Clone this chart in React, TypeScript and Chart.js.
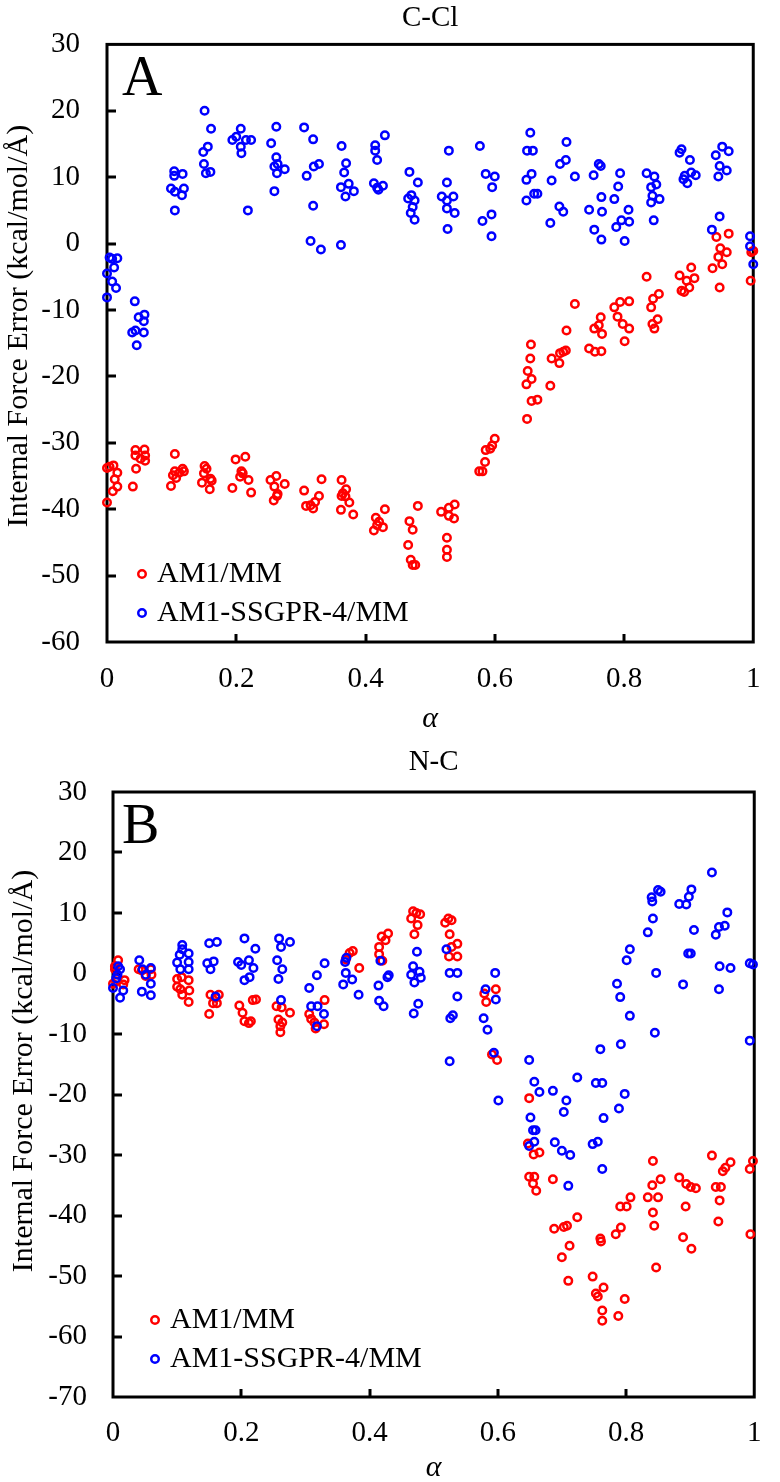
import React, { useEffect, useRef } from "react";
import { Chart, registerables } from "chart.js";

Chart.register(...registerables);

const FONT = "'Liberation Serif', 'Times New Roman', Times, serif";

// ---------- DATA (alpha, internal force error) ----------
const seriesLabels = ["AM1/MM", "AM1-SSGPR-4/MM"];
const xTickValues = [0, 0.2, 0.4, 0.6, 0.8, 1];

// Panel A: C-Cl
const cclAm1: number[][] = [
  [0.0, -39.0], [0.0, -33.8], [0.01, -33.4], [0.009, -37.3], [0.012, -35.5], [0.016, -34.5], [0.016, -36.6], [0.004, -33.6],
  [0.044, -31.1], [0.044, -31.9], [0.045, -33.9], [0.04, -36.6], [0.058, -31.0], [0.059, -31.9], [0.052, -32.4], [0.059, -32.7],
  [0.105, -31.7], [0.099, -36.5], [0.105, -34.3], [0.102, -34.9], [0.107, -35.3], [0.117, -33.9], [0.119, -34.3], [0.112, -34.5],
  [0.151, -33.5], [0.154, -33.9], [0.15, -34.6], [0.147, -36.0], [0.16, -35.4], [0.162, -35.7], [0.159, -37.0],
  [0.199, -32.5], [0.214, -32.1], [0.194, -36.8], [0.208, -34.3], [0.21, -34.6], [0.206, -35.1], [0.219, -35.6], [0.223, -37.5],
  [0.253, -35.6], [0.262, -35.0], [0.259, -36.6], [0.263, -38.0], [0.258, -38.7], [0.264, -37.7], [0.275, -36.2],
  [0.305, -37.2], [0.308, -39.5], [0.315, -39.4], [0.319, -39.9], [0.322, -38.9], [0.328, -38.0], [0.332, -35.5],
  [0.363, -35.6], [0.37, -37.0], [0.365, -37.6], [0.363, -38.0], [0.369, -38.1], [0.375, -39.0], [0.362, -40.1], [0.381, -40.8],
  [0.413, -43.2], [0.416, -41.3], [0.421, -41.9], [0.427, -42.7], [0.43, -40.0], [0.418, -42.4],
  [0.468, -41.8], [0.481, -39.5], [0.473, -43.1], [0.466, -45.4], [0.47, -47.6], [0.473, -48.4], [0.477, -48.4],
  [0.517, -40.4], [0.529, -39.8], [0.538, -39.3], [0.529, -41.0], [0.537, -41.4], [0.526, -44.3], [0.526, -46.1], [0.526, -47.2],
  [0.576, -34.3], [0.581, -34.3], [0.585, -32.9], [0.586, -31.1], [0.593, -30.9], [0.596, -30.4], [0.6, -29.4],
  [0.65, -26.4], [0.657, -23.7], [0.666, -23.5], [0.649, -21.2], [0.657, -20.4], [0.651, -19.2], [0.655, -17.3], [0.656, -15.2],
  [0.686, -21.4], [0.688, -17.3], [0.7, -18.0], [0.701, -16.5], [0.706, -16.3], [0.71, -16.1], [0.711, -13.1], [0.724, -9.1],
  [0.746, -15.8], [0.755, -16.3], [0.765, -16.2], [0.754, -12.8], [0.764, -11.1], [0.766, -13.6], [0.761, -12.3],
  [0.785, -9.6], [0.794, -8.8], [0.808, -8.7], [0.79, -11.0], [0.798, -12.1], [0.808, -12.8], [0.801, -14.7],
  [0.835, -5.0], [0.854, -7.6], [0.845, -8.3], [0.842, -9.6], [0.852, -11.4], [0.844, -12.1], [0.847, -12.8],
  [0.886, -4.8], [0.904, -3.6], [0.897, -5.6], [0.909, -5.2], [0.889, -7.1], [0.893, -7.3], [0.901, -6.6],
  [0.962, 1.5], [0.943, 1.0], [0.949, -0.7], [0.959, -1.3], [0.946, -2.0], [0.952, -3.1], [0.937, -3.7], [0.948, -6.6],
  [0.997, -1.3], [1.0, -1.1], [0.996, -5.6],
];

const cclSsgpr: number[][] = [
  [0.0, -8.1], [0.0, -4.5], [0.004, -2.1], [0.008, -2.3], [0.016, -2.2], [0.011, -3.6], [0.008, -5.7], [0.014, -6.7],
  [0.043, -8.7], [0.039, -13.4], [0.044, -13.1], [0.049, -11.1], [0.058, -10.7], [0.057, -11.7], [0.057, -13.4], [0.046, -15.3],
  [0.104, 10.9], [0.104, 10.2], [0.117, 10.5], [0.099, 8.3], [0.105, 7.8], [0.119, 8.3], [0.116, 7.3], [0.105, 5.0],
  [0.151, 20.0], [0.161, 17.3], [0.149, 13.8], [0.156, 14.6], [0.15, 12.0], [0.153, 10.6], [0.16, 10.8],
  [0.194, 15.6], [0.2, 16.1], [0.207, 17.3], [0.207, 14.6], [0.208, 13.6], [0.215, 15.6], [0.223, 15.6], [0.218, 5.0],
  [0.254, 15.1], [0.262, 17.6], [0.262, 13.0], [0.259, 11.6], [0.264, 12.0], [0.263, 10.6], [0.275, 11.2], [0.259, 7.9],
  [0.305, 17.5], [0.319, 15.7], [0.309, 10.2], [0.32, 11.6], [0.328, 12.0], [0.319, 5.7], [0.315, 0.4], [0.331, -0.9],
  [0.363, 14.7], [0.37, 12.1], [0.367, 10.7], [0.362, 8.5], [0.374, 9.0], [0.369, 7.1], [0.382, 7.9], [0.362, -0.2],
  [0.415, 14.8], [0.415, 14.0], [0.418, 12.6], [0.43, 16.3], [0.413, 9.1], [0.42, 8.1], [0.427, 8.7], [0.418, 8.4],
  [0.468, 10.8], [0.481, 9.2], [0.466, 6.8], [0.471, 7.3], [0.476, 6.5], [0.473, 5.5], [0.47, 4.6], [0.476, 3.6],
  [0.529, 14.0], [0.526, 9.2], [0.518, 7.1], [0.536, 7.1], [0.526, 6.5], [0.538, 4.6], [0.526, 5.3], [0.527, 2.2],
  [0.577, 14.7], [0.586, 10.5], [0.6, 10.1], [0.596, 8.5], [0.581, 3.4], [0.595, 4.4], [0.595, 1.1],
  [0.655, 16.7], [0.65, 14.0], [0.659, 14.0], [0.657, 10.5], [0.649, 9.6], [0.661, 7.5], [0.666, 7.5], [0.649, 6.5],
  [0.711, 15.3], [0.71, 12.6], [0.701, 12.0], [0.688, 9.5], [0.724, 10.1], [0.7, 5.6], [0.706, 4.8], [0.686, 3.1],
  [0.761, 12.0], [0.764, 11.7], [0.753, 10.3], [0.765, 7.0], [0.746, 5.1], [0.766, 4.8], [0.754, 2.1], [0.765, 0.6],
  [0.794, 10.6], [0.791, 8.6], [0.785, 6.7], [0.807, 5.1], [0.796, 3.5], [0.808, 3.3], [0.788, 2.5], [0.801, 0.4],
  [0.835, 10.6], [0.847, 10.1], [0.85, 8.9], [0.842, 8.5], [0.844, 7.2], [0.855, 6.7], [0.842, 6.2], [0.846, 3.5],
  [0.886, 13.7], [0.889, 14.2], [0.902, 12.6], [0.904, 10.7], [0.894, 10.2], [0.911, 10.3], [0.898, 9.1], [0.892, 9.7],
  [0.952, 14.6], [0.962, 13.9], [0.942, 13.3], [0.948, 11.7], [0.959, 11.0], [0.946, 10.1], [0.948, 4.1], [0.936, 2.1],
  [0.995, 1.1], [0.995, -0.4], [1.0, -3.1],
];

// Panel B: N-C
const ncAm1: number[][] = [
  [0.008, 2.2], [0.003, 1.2], [0.005, -1.3], [0.016, -1.8], [0.0, -1.7], [0.003, 0.7], [0.018, -1.1],
  [0.04, 0.7], [0.045, 0.5], [0.051, -0.4], [0.059, 0.7], [0.06, -0.2],
  [0.1, -0.9], [0.107, -0.6], [0.118, -1.1], [0.1, -2.2], [0.105, -2.6], [0.119, -2.8], [0.108, -3.5], [0.118, -4.7],
  [0.15, -6.7], [0.152, -3.5], [0.156, -4.9], [0.165, -3.5], [0.162, -4.9], [0.16, -4.0],
  [0.197, -5.3], [0.202, -6.5], [0.205, -7.9], [0.212, -8.2], [0.215, -7.9], [0.218, -4.4], [0.223, -4.3],
  [0.255, -5.4], [0.263, -5.6], [0.276, -6.5], [0.258, -7.6], [0.261, -8.7], [0.261, -9.7], [0.264, -8.1],
  [0.306, -6.7], [0.309, -7.5], [0.314, -8.1], [0.33, -4.4], [0.329, -8.4], [0.316, -9.1],
  [0.369, 3.4], [0.374, 3.7], [0.363, 2.3], [0.384, 0.9],
  [0.419, 6.1], [0.429, 6.6], [0.415, 4.4], [0.425, 5.5], [0.415, 3.2], [0.42, 2.1],
  [0.468, 10.3], [0.479, 9.8], [0.465, 9.1], [0.475, 8.0], [0.47, 6.5], [0.473, 10.0],
  [0.523, 9.1], [0.528, 8.8], [0.518, 8.4], [0.525, 6.5], [0.537, 4.9], [0.528, 4.4], [0.524, 2.8], [0.537, 2.8],
  [0.579, -3.3], [0.597, -2.6], [0.582, -4.7], [0.591, -13.4], [0.599, -14.3],
  [0.649, -20.6], [0.647, -28.1], [0.656, -29.9], [0.665, -29.6], [0.649, -33.6], [0.657, -33.6], [0.655, -34.7], [0.66, -35.9],
  [0.686, -34.0], [0.688, -42.2], [0.703, -41.9], [0.708, -41.7], [0.724, -40.3], [0.712, -45.0], [0.7, -46.9], [0.71, -50.8],
  [0.748, -50.1], [0.753, -52.9], [0.756, -53.4], [0.765, -51.9], [0.763, -55.7], [0.763, -57.4], [0.76, -43.8], [0.761, -44.3], [0.784, -43.1], [0.792, -42.0],
  [0.791, -38.5], [0.801, -38.5], [0.807, -37.0], [0.798, -53.8], [0.788, -56.6],
  [0.842, -31.0], [0.854, -34.0], [0.841, -35.0], [0.834, -37.0], [0.85, -37.0], [0.842, -39.5], [0.844, -41.7], [0.847, -48.6],
  [0.883, -33.7], [0.894, -34.8], [0.901, -35.3], [0.909, -35.5], [0.893, -38.5], [0.889, -43.6], [0.902, -45.5],
  [0.934, -30.1], [0.963, -31.2], [0.955, -32.1], [0.951, -32.7], [0.94, -35.3], [0.948, -35.3], [0.946, -37.5], [0.944, -41.0],
  [0.998, -31.0], [0.993, -32.3], [0.994, -43.1],
];

const ncSsgpr: number[][] = [
  [0.008, 1.2], [0.011, 0.7], [0.005, -0.8], [0.0, -2.4], [0.016, -2.8], [0.011, -4.0], [0.007, -0.2],
  [0.041, 2.2], [0.059, 0.9], [0.051, -0.2], [0.059, -1.7], [0.045, -3.0], [0.059, -3.6], [0.046, 0.7],
  [0.108, 4.7], [0.108, 4.0], [0.104, 3.1], [0.118, 3.3], [0.1, 1.8], [0.118, 1.9], [0.105, 0.7], [0.118, 0.7],
  [0.15, 5.0], [0.162, 5.2], [0.147, 1.7], [0.157, 2.0], [0.152, 0.7], [0.16, -3.8],
  [0.205, 5.8], [0.222, 4.1], [0.195, 1.9], [0.212, 2.2], [0.2, 1.4], [0.219, 0.9], [0.213, -0.6], [0.205, -1.1],
  [0.259, 5.8], [0.262, 4.4], [0.276, 5.2], [0.256, 2.2], [0.264, 0.7], [0.258, -0.9], [0.262, -4.4],
  [0.306, -2.4], [0.318, -0.3], [0.33, 1.7], [0.309, -5.4], [0.319, -5.4], [0.329, -6.7], [0.318, -8.7],
  [0.362, 1.9], [0.364, 2.6], [0.363, 0.1], [0.359, -1.8], [0.373, -1.0], [0.383, -3.5],
  [0.417, 2.1], [0.414, -2.0], [0.43, -0.3], [0.428, -0.6], [0.415, -4.5], [0.422, -5.4],
  [0.474, 3.6], [0.468, 1.2], [0.478, 0.3], [0.465, -0.2], [0.48, -0.7], [0.47, -1.5], [0.476, -5.0], [0.469, -6.6],
  [0.52, 4.0], [0.525, 0.1], [0.537, 0.1], [0.537, -3.8], [0.526, -7.4], [0.53, -6.9], [0.525, -14.5],
  [0.581, -2.6], [0.596, 0.1], [0.597, -4.3], [0.578, -7.4], [0.584, -9.3], [0.594, -13.1], [0.601, -21.0],
  [0.649, -14.3], [0.657, -17.9], [0.665, -19.6], [0.651, -23.8], [0.655, -25.9], [0.659, -25.9], [0.657, -27.8], [0.649, -28.5],
  [0.686, -19.4], [0.707, -21.0], [0.724, -17.2], [0.703, -22.9], [0.689, -27.9], [0.7, -29.3], [0.713, -30.0], [0.71, -35.1],
  [0.76, -12.5], [0.753, -18.1], [0.763, -18.1], [0.789, -22.3], [0.765, -23.9], [0.748, -28.2], [0.756, -27.8], [0.763, -32.3],
  [0.801, 2.2], [0.806, 4.0], [0.786, -1.7], [0.791, -3.9], [0.806, -7.0], [0.792, -11.7], [0.798, -19.9],
  [0.834, 6.8], [0.842, 9.1], [0.841, 11.9], [0.84, 12.6], [0.85, 13.8], [0.854, 13.5], [0.847, 0.1], [0.845, -9.8],
  [0.883, 11.5], [0.894, 11.4], [0.898, 12.7], [0.902, 13.9], [0.906, 7.2], [0.897, 3.3], [0.901, 3.3], [0.889, -1.8],
  [0.934, 16.7], [0.958, 10.1], [0.945, 7.7], [0.954, 7.9], [0.94, 6.4], [0.946, 1.2], [0.963, 0.9], [0.945, -2.6],
  [0.993, 1.7], [0.998, 1.5], [0.993, -11.1],
];

// ---------- LAYOUT / STYLE ----------
type PanelSpec = {
  title: string;
  letter: string;
  yMin: number;
  yMax: number;
  red: number[][];
  blue: number[][];
  canvasH: number;
  plotLeft: number;
  plotTop: number;
  plotRight: number;
  plotBottom: number;
  titlePadTop: number;
  yTickPad: number;
  xTickPad: number;
  xTitlePadBottom: number;
  letterX: number;
  letterY: number;
  yTitleX: number;
  yTitleY: number;
  legendMarkerX: number;
  legendTextX: number;
  legendY: number[];
};

const WIDTH = 780;
const TITLE_SIZE = 29;
const TICK_SIZE = 29;
const LEGEND_SIZE = 30;
const YTITLE_SIZE = 30;
const XTITLE_SIZE = 30;
const LETTER_SIZE = 56;
const POINT_R = 3.75;
const POINT_W = 2.5;
const RED = "#FF0000";
const BLUE = "#0000FF";

const panels: PanelSpec[] = [
  {
    title: "C-Cl", letter: "A", yMin: -60, yMax: 30, red: cclAm1, blue: cclSsgpr,
    canvasH: 741, plotLeft: 107, plotTop: 43, plotRight: 772, plotBottom: 642,
    titlePadTop: 0, yTickPad: 27, xTickPad: 19.5, xTitlePadBottom: 11.5,
    letterX: 122, letterY: 95, yTitleX: 19, yTitleY: 326,
    legendMarkerX: 142, legendTextX: 157, legendY: [574, 613],
  },
  {
    title: "N-C", letter: "B", yMin: -70, yMax: 30, red: ncAm1, blue: ncSsgpr,
    canvasH: 741, plotLeft: 113, plotTop: 51, plotRight: 773, plotBottom: 656,
    titlePadTop: 3.6, yTickPad: 26, xTickPad: 18.5, xTitlePadBottom: 3,
    letterX: 122, letterY: 102, yTitleX: 24, yTitleY: 330,
    legendMarkerX: 155, legendTextX: 170, legendY: [579, 618],
  },
];

const framePlugin = {
  id: "frame",
  beforeDatasetsDraw(chart: any) {
    const { ctx, chartArea, scales } = chart;
    const { left, top, right, bottom } = chartArea;
    ctx.save();
    ctx.strokeStyle = "#000";
    ctx.lineWidth = 3;
    ctx.strokeRect(left, top, right - left, bottom - top);
    const xs = scales.x;
    const ys = scales.y;
    xs.ticks.forEach((t: any) => {
      if (t.value <= xs.min || t.value >= xs.max) return;
      const px = Math.round(xs.getPixelForValue(t.value));
      ctx.beginPath();
      ctx.moveTo(px, bottom);
      ctx.lineTo(px, bottom - 8);
      ctx.stroke();
    });
    ys.ticks.forEach((t: any) => {
      if (t.value <= ys.min || t.value >= ys.max) return;
      const py = Math.round(ys.getPixelForValue(t.value));
      ctx.beginPath();
      ctx.moveTo(left, py);
      ctx.lineTo(left + 9, py);
      ctx.stroke();
    });
    ctx.restore();
  },
};

const annotatePlugin = {
  id: "annotate",
  afterDraw(chart: any, _args: any, opts: any) {
    const p: PanelSpec = opts.panel;
    if (!p) return;
    const { ctx } = chart;
    ctx.save();
    ctx.fillStyle = "#000";
    // panel letter
    ctx.font = `${LETTER_SIZE}px ${FONT}`;
    ctx.textAlign = "left";
    ctx.textBaseline = "alphabetic";
    ctx.fillText(p.letter, p.letterX, p.letterY);
    // y-axis title
    ctx.save();
    ctx.translate(p.yTitleX, p.yTitleY);
    ctx.rotate(-Math.PI / 2);
    ctx.font = `${YTITLE_SIZE}px ${FONT}`;
    ctx.textAlign = "center";
    ctx.textBaseline = "middle";
    ctx.fillText("Internal Force Error (kcal/mol/Å)", 0, 0);
    ctx.restore();
    // legend
    chart.data.datasets.forEach((ds: any, i: number) => {
      const y = p.legendY[i];
      ctx.beginPath();
      ctx.arc(p.legendMarkerX, y, POINT_R, 0, Math.PI * 2);
      ctx.lineWidth = POINT_W;
      ctx.strokeStyle = ds.borderColor;
      ctx.stroke();
      ctx.fillStyle = "#000";
      ctx.font = `${LEGEND_SIZE}px ${FONT}`;
      ctx.textAlign = "left";
      ctx.textBaseline = "middle";
      ctx.fillText(ds.label, p.legendTextX, y);
    });
    ctx.restore();
  },
};

function makeConfig(p: PanelSpec): any {
  const mk = (rows: number[][]) => rows.map(([a, v]) => ({ x: a, y: v }));
  const pointStyle = {
    backgroundColor: "rgba(0,0,0,0)",
    pointBackgroundColor: "rgba(0,0,0,0)",
    pointRadius: POINT_R,
    pointHoverRadius: POINT_R,
    borderWidth: POINT_W,
    pointBorderWidth: POINT_W,
    clip: false as any,
    showLine: false,
  };
  return {
    type: "scatter",
    data: {
      datasets: [
        { label: seriesLabels[0], data: mk(p.red), borderColor: RED, pointBorderColor: RED, order: 1, ...pointStyle },
        { label: seriesLabels[1], data: mk(p.blue), borderColor: BLUE, pointBorderColor: BLUE, order: 0, ...pointStyle },
      ],
    },
    options: {
      animation: false,
      responsive: false,
      maintainAspectRatio: false,
      devicePixelRatio: 1,
      events: [],
      layout: { padding: { left: 0, top: 0, right: WIDTH - p.plotRight, bottom: 0 } },
      plugins: {
        legend: { display: false },
        tooltip: { enabled: false },
        title: {
          display: true,
          text: p.title,
          fullSize: false,
          color: "#000",
          font: { family: FONT, size: TITLE_SIZE, weight: "normal", lineHeight: 1.2 },
          padding: { top: p.titlePadTop, bottom: p.plotTop - p.titlePadTop - TITLE_SIZE * 1.2 },
        },
        annotate: { panel: p },
      },
      scales: {
        x: {
          type: "linear",
          position: "bottom",
          min: 0,
          max: 1,
          afterFit: (s: any) => { s.height = p.canvasH - p.plotBottom; },
          afterBuildTicks: (s: any) => { s.ticks = xTickValues.map((v) => ({ value: v })); },
          grid: { display: false, drawTicks: false },
          border: { display: false },
          ticks: {
            color: "#000",
            font: { family: FONT, size: TICK_SIZE, lineHeight: 1.2 },
            padding: p.xTickPad,
            maxRotation: 0,
            autoSkip: false,
            callback: (v: any) => String(Math.round(Number(v) * 10) / 10),
          },
          title: {
            display: true,
            text: "α",
            color: "#000",
            font: { family: FONT, size: XTITLE_SIZE, style: "italic", lineHeight: 0.7 },
            padding: { top: 0, bottom: p.xTitlePadBottom },
          },
        },
        y: {
          type: "linear",
          position: "left",
          min: p.yMin,
          max: p.yMax,
          afterFit: (s: any) => { s.width = p.plotLeft; },
          grid: { display: false, drawTicks: false },
          border: { display: false },
          ticks: {
            stepSize: 10,
            color: "#000",
            font: { family: FONT, size: TICK_SIZE, lineHeight: 1.2 },
            padding: p.yTickPad,
            callback: (v: any) => String(Math.round(Number(v))),
          },
          title: { display: false },
        },
      },
    },
    plugins: [framePlugin, annotatePlugin],
  };
}

function Panel({ spec }: { spec: PanelSpec }) {
  const ref = useRef<HTMLCanvasElement | null>(null);
  useEffect(() => {
    if (!ref.current) return;
    const chart = new Chart(ref.current, makeConfig(spec));
    return () => chart.destroy();
  }, [spec]);
  return (
    <canvas
      ref={ref}
      width={WIDTH}
      height={spec.canvasH}
      style={{ display: "block", width: WIDTH, height: spec.canvasH }}
    />
  );
}

export default function App() {
  return (
    <div style={{ position: "absolute", left: 0, top: 0, width: WIDTH, background: "#fff" }}>
      {panels.map((p) => (
        <Panel key={p.letter} spec={p} />
      ))}
    </div>
  );
}
